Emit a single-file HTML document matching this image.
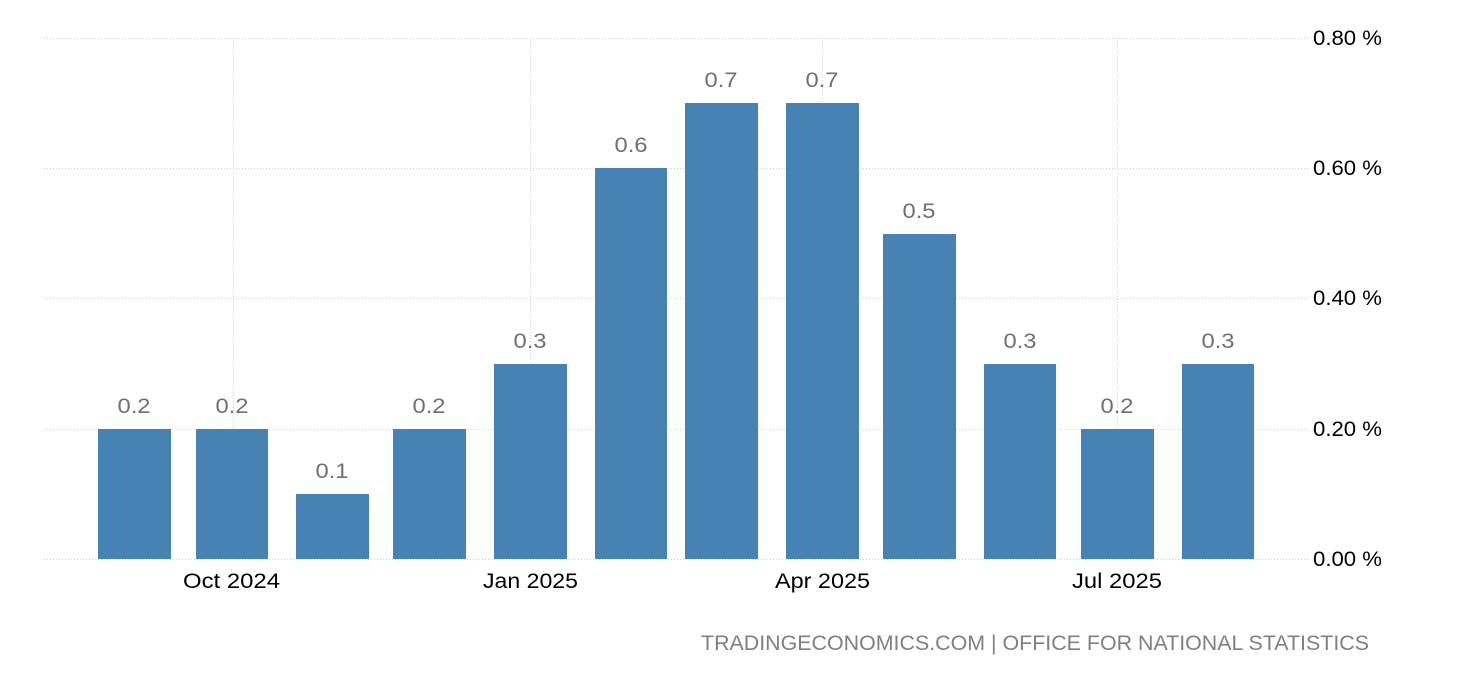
<!DOCTYPE html>
<html><head><style>body{margin:0;background:#fff}svg{display:block}</style></head><body>
<svg width="1460" height="680" xmlns="http://www.w3.org/2000/svg" font-family="Liberation Sans, DejaVu Sans, sans-serif">
<g stroke="#d0d0d0" stroke-width="1" stroke-dasharray="1,2">
<line x1="44" x2="1308" y1="38.5" y2="38.5"/>
<line x1="44" x2="1308" y1="168.5" y2="168.5"/>
<line x1="44" x2="1308" y1="298.5" y2="298.5"/>
<line x1="44" x2="1308" y1="429.5" y2="429.5"/>
<line x1="44" x2="1308" y1="559.5" y2="559.5"/>
<line x1="233.5" x2="233.5" y1="38" y2="559"/>
<line x1="530.5" x2="530.5" y1="38" y2="559"/>
<line x1="822.5" x2="822.5" y1="38" y2="559"/>
<line x1="1117.5" x2="1117.5" y1="38" y2="559"/>
</g>
<g fill="#4682b4">
<rect x="98" y="429" width="73" height="130"/>
<rect x="196" y="429" width="72" height="130"/>
<rect x="296" y="494" width="73" height="65"/>
<rect x="393" y="429" width="73" height="130"/>
<rect x="494" y="364" width="73" height="195"/>
<rect x="595" y="168" width="72" height="391"/>
<rect x="685" y="103" width="73" height="456"/>
<rect x="786" y="103" width="73" height="456"/>
<rect x="883" y="234" width="73" height="325"/>
<rect x="984" y="364" width="72" height="195"/>
<rect x="1081" y="429" width="73" height="130"/>
<rect x="1182" y="364" width="72" height="195"/>
</g>
<g fill="#707070" font-size="21" text-anchor="middle">
<text x="134" y="413" textLength="33" lengthAdjust="spacingAndGlyphs">0.2</text>
<text x="232" y="413" textLength="33" lengthAdjust="spacingAndGlyphs">0.2</text>
<text x="332" y="478" textLength="33" lengthAdjust="spacingAndGlyphs">0.1</text>
<text x="429" y="413" textLength="33" lengthAdjust="spacingAndGlyphs">0.2</text>
<text x="530" y="348" textLength="33" lengthAdjust="spacingAndGlyphs">0.3</text>
<text x="631" y="152" textLength="33" lengthAdjust="spacingAndGlyphs">0.6</text>
<text x="721" y="87" textLength="33" lengthAdjust="spacingAndGlyphs">0.7</text>
<text x="822" y="87" textLength="33" lengthAdjust="spacingAndGlyphs">0.7</text>
<text x="919" y="218" textLength="33" lengthAdjust="spacingAndGlyphs">0.5</text>
<text x="1020" y="348" textLength="33" lengthAdjust="spacingAndGlyphs">0.3</text>
<text x="1117" y="413" textLength="33" lengthAdjust="spacingAndGlyphs">0.2</text>
<text x="1218" y="348" textLength="33" lengthAdjust="spacingAndGlyphs">0.3</text>
</g>
<g fill="#000" font-size="21">
<text x="1313" y="45" textLength="69" lengthAdjust="spacingAndGlyphs">0.80 %</text>
<text x="1313" y="175" textLength="69" lengthAdjust="spacingAndGlyphs">0.60 %</text>
<text x="1313" y="305" textLength="69" lengthAdjust="spacingAndGlyphs">0.40 %</text>
<text x="1313" y="436" textLength="69" lengthAdjust="spacingAndGlyphs">0.20 %</text>
<text x="1313" y="566" textLength="69" lengthAdjust="spacingAndGlyphs">0.00 %</text>
</g>
<g fill="#000" font-size="21">
<text x="183" y="588" textLength="97" lengthAdjust="spacingAndGlyphs">Oct 2024</text>
<text x="483" y="588" textLength="95" lengthAdjust="spacingAndGlyphs">Jan 2025</text>
<text x="775" y="588" textLength="95" lengthAdjust="spacingAndGlyphs">Apr 2025</text>
<text x="1072" y="588" textLength="90" lengthAdjust="spacingAndGlyphs">Jul 2025</text>
</g>
<text x="701" y="650" fill="#808080" font-size="21" textLength="668" lengthAdjust="spacingAndGlyphs">TRADINGECONOMICS.COM | OFFICE FOR NATIONAL STATISTICS</text>
</svg>
</body></html>
